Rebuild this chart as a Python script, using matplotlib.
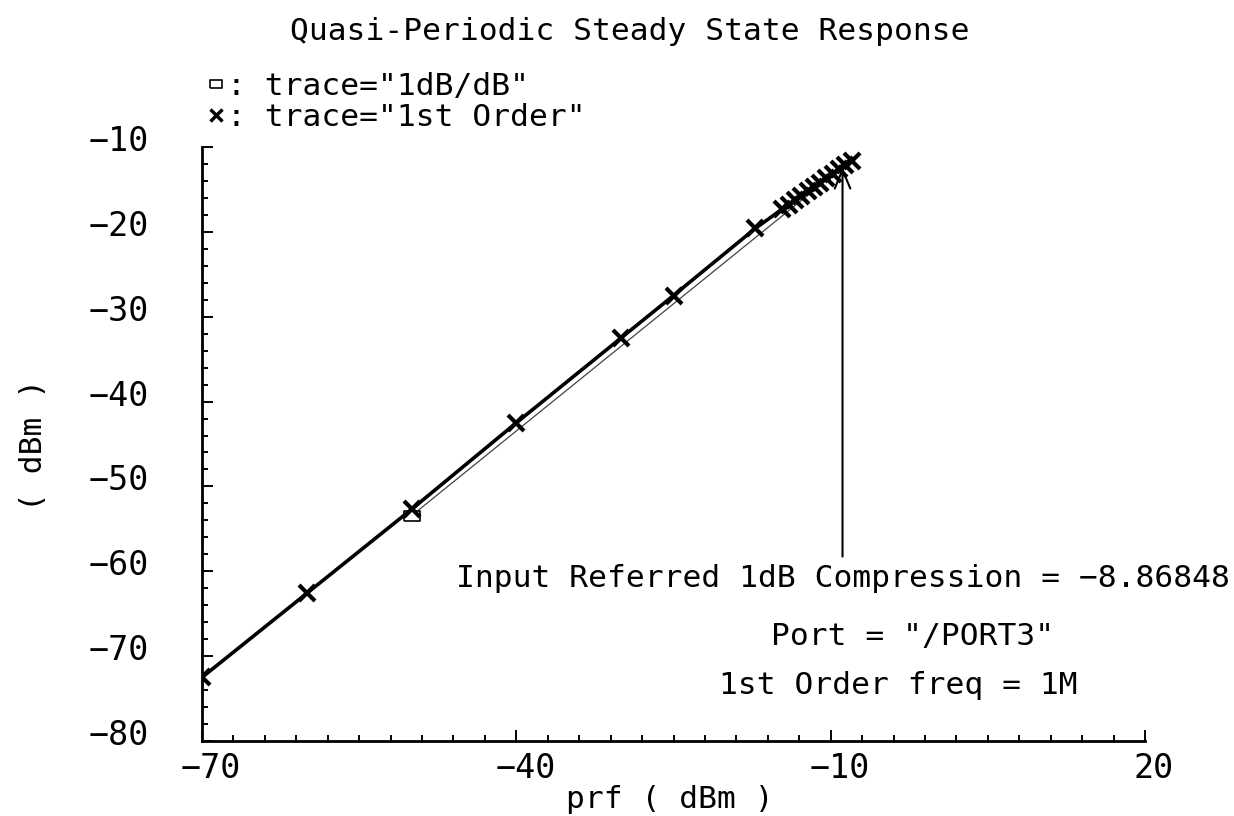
import matplotlib
matplotlib.use("Agg")
import matplotlib.pyplot as plt
import matplotlib.transforms as mtransforms
from matplotlib.lines import Line2D
from matplotlib.ticker import MultipleLocator

plt.rcParams['font.family'] = ['DejaVu Sans Mono', 'DejaVu Sans']

# 1st order output (dBm) vs input power prf (dBm)
first_x = [-70, -60, -50, -40, -30, -25, -17.2,
           -14.6, -14.0, -13.4, -12.8, -12.2, -11.6, -11.0,
           -10.4, -9.8, -9.2, -8.6, -8.0]
first_y = [-72.5, -62.6, -52.7, -42.5, -32.5, -27.5, -19.6,
           -17.3, -16.8, -16.26, -15.73, -15.22, -14.7, -14.2,
           -13.68, -13.17, -12.65, -12.15, -11.7]

# 1dB/dB reference line
onedb_x = [-50, -8.86848]
onedb_y = [-53.45, -12.37]

comp_in = -8.86848
comp_out = -12.37

title = "Quasi-Periodic Steady State Response"
comp_label = "Input Referred 1dB Compression = \u22128.86848"
port_label = 'Port = "/PORT3"'
freq_label = "1st Order freq = 1M"

W, H = 1234, 816
fig = plt.figure(figsize=(W / 100, H / 100), dpi=100)
ax = fig.add_axes([202 / W, 75 / H, 943 / W, 594 / H])

rect = [(-1, -0.6), (1, -0.6), (1, 0.6), (-1, 0.6), (-1, -0.6)]
ax.plot(onedb_x, onedb_y, color='#444444', lw=0.9, marker=rect, ms=11,
        mfc='white', mec='black', mew=1.2, markevery=[0])
ax.plot(first_x, first_y, color='black', lw=2.6, marker='x', ms=12, mew=3)

ax.set_xlim(-70, 20)
ax.set_ylim(-80, -10)
ax.xaxis.set_major_locator(MultipleLocator(30, offset=-10))
ax.xaxis.set_minor_locator(MultipleLocator(3, offset=-1))
ax.yaxis.set_major_locator(MultipleLocator(10))
ax.yaxis.set_minor_locator(MultipleLocator(2))

for s in ['top', 'right']:
    ax.spines[s].set_visible(False)
for s in ['left', 'bottom']:
    ax.spines[s].set_linewidth(2)

ax.tick_params(which='both', direction='in', width=1.4, labelsize=24)
ax.tick_params(which='major', length=8)
ax.tick_params(which='minor', length=4.5)
ax.tick_params(axis='x', pad=8)
ax.tick_params(axis='y', pad=38)

fig.canvas.draw()
for lab in ax.get_xticklabels():
    lab.set_transform(lab.get_transform() + mtransforms.ScaledTranslation(0.09, 0, fig.dpi_scale_trans))
for lab in ax.get_yticklabels():
    lab.set_transform(lab.get_transform() + mtransforms.ScaledTranslation(0, 0.09, fig.dpi_scale_trans))

fs = 22.5
fig.text(630 / W, 1 - 31 / H, title, ha='center', va='center', fontsize=fs)
fig.text(670 / W, 1 - 800 / H, "prf ( dBm )", ha='center', va='center', fontsize=fs)
fig.text(33 / W, 1 - 445 / H, "( dBm )", ha='center', va='center', rotation=90, fontsize=fs)

ax.annotate(comp_label, xy=(comp_in, comp_out), xytext=(comp_in, -60.8),
            ha='center', va='center', fontsize=fs,
            arrowprops=dict(arrowstyle='->,head_length=0.6,head_width=0.25',
                            color='black', lw=1.5, shrinkA=3, shrinkB=0))
fig.text(913 / W, 1 - 637 / H, port_label, ha='center', va='center', fontsize=fs)
fig.text(898 / W, 1 - 686 / H, freq_label, ha='center', va='center', fontsize=fs)

handles = [
    Line2D([], [], ls='none', marker=rect, ms=9, mfc='white', mec='black', mew=1.2),
    Line2D([], [], ls='none', marker='x', ms=9, mew=2.5, color='black'),
]
labels = [': trace="1dB/dB"', ': trace="1st Order"']
fig.legend(handles, labels, loc='upper left', bbox_to_anchor=(208 / W, 1 - 72 / H),
           frameon=False, fontsize=fs, handlelength=0.5, handletextpad=0.1,
           labelspacing=0.05, borderpad=0, borderaxespad=0)

fig.savefig("out.png", dpi=100)
